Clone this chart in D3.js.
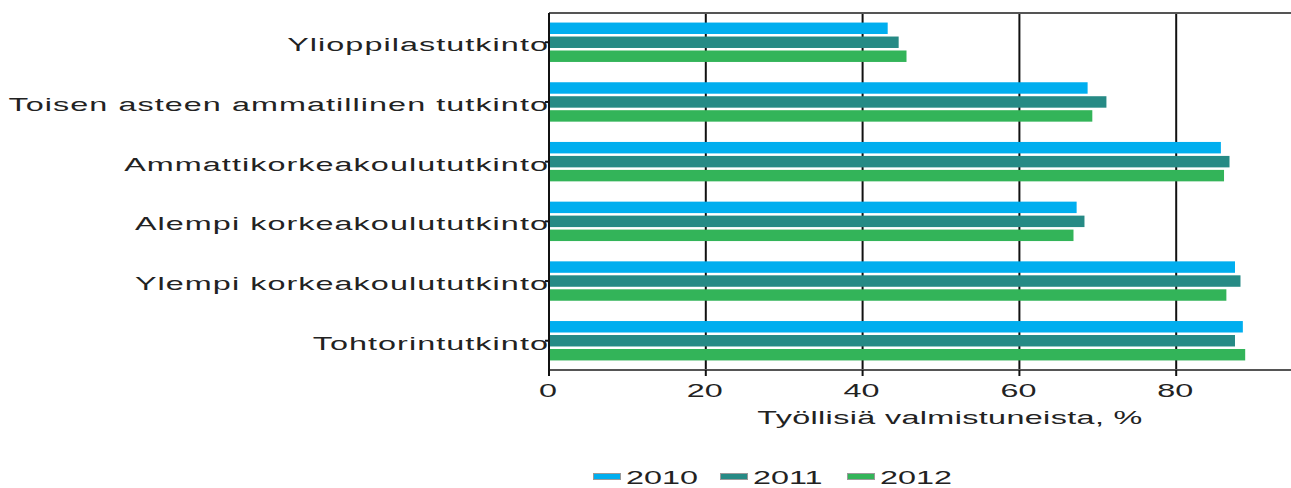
<!DOCTYPE html>
<html>
<head>
<meta charset="utf-8">
<script src="https://cdn.jsdelivr.net/npm/d3@7"></script>
<style>
  html, body { margin: 0; padding: 0; background: #fff; }
  svg { display: block; font-family: "Liberation Sans", Arial, sans-serif; }
</style>
</head>
<body>
<svg id="chart" width="1291" height="488"></svg>
<script>
// Employment rate of graduates by degree level, %
const categories = [
  "Ylioppilastutkinto",
  "Toisen asteen ammatillinen tutkinto",
  "Ammattikorkeakoulututkinto",
  "Alempi korkeakoulututkinto",
  "Ylempi korkeakoulututkinto",
  "Tohtorintutkinto"
];
const years = ["2010", "2011", "2012"];
const values2010 = [43.2, 68.7, 85.7, 67.3, 87.5, 88.5];
const values2011 = [44.6, 71.1, 86.8, 68.3, 88.2, 87.5];
const values2012 = [45.6, 69.3, 86.1, 66.9, 86.4, 88.8];
const xTicks = [0, 20, 40, 60, 80];
const axisTitle = "Työllisiä valmistuneista, %";

(function () {
  const seriesValues = [values2010, values2011, values2012];
  const colors = ["#00aeef", "#268a85", "#33b459"];

  const svg = d3.select("#chart");
  const W = 1291;
  const plotLeft = 549, plotTop = 13, plotBottom = 370;
  const stretch = 1.75;   // wide lettering

  const x = d3.scaleLinear().domain([0, 100]).range([plotLeft, 1333]);
  const y = d3.scaleBand().domain(categories).range([plotTop, plotBottom])
    .paddingInner(0.34).paddingOuter(0.16);
  const yInner = d3.scaleBand().domain(years).range([0, y.bandwidth()]).paddingInner(0.18);

  // vertical gridlines
  svg.append("g").selectAll("line")
    .data(xTicks.filter(d => d > 0))
    .join("line")
    .attr("x1", d => x(d)).attr("x2", d => x(d))
    .attr("y1", plotTop).attr("y2", plotBottom)
    .attr("stroke", "#111").attr("stroke-width", 2);

  // top frame line
  svg.append("line")
    .attr("x1", plotLeft).attr("x2", W).attr("y1", plotTop).attr("y2", plotTop)
    .attr("stroke", "#555").attr("stroke-width", 2);

  // bars
  const groups = svg.append("g").selectAll("g")
    .data(categories)
    .join("g")
    .attr("transform", c => `translate(0,${y(c)})`);

  groups.selectAll("rect")
    .data((c, i) => years.map((yr, k) => ({ yr, k, v: seriesValues[k][i] })))
    .join("rect")
    .attr("x", x(0) + 1)
    .attr("y", d => yInner(d.yr))
    .attr("width", d => x(d.v) - x(0) - 1)
    .attr("height", yInner.bandwidth())
    .attr("fill", d => colors[d.k]);

  // bottom axis
  const xAxis = svg.append("g");
  xAxis.append("line")
    .attr("x1", plotLeft).attr("x2", W).attr("y1", plotBottom).attr("y2", plotBottom)
    .attr("stroke", "#555").attr("stroke-width", 2);
  xAxis.selectAll("line.tick")
    .data(xTicks)
    .join("line")
    .attr("class", "tick")
    .attr("x1", d => x(d)).attr("x2", d => x(d))
    .attr("y1", plotBottom).attr("y2", plotBottom + 6)
    .attr("stroke", "#111").attr("stroke-width", 2);
  xAxis.selectAll("g.lbl")
    .data(xTicks)
    .join("g")
    .attr("class", "lbl")
    .attr("transform", d => `translate(${x(d) - 1},397) scale(${stretch},1)`)
    .append("text")
    .attr("text-anchor", "middle")
    .attr("font-size", 18.5)
    .attr("fill", "#222")
    .text(d => d);

  // axis title
  svg.append("g")
    .attr("transform", `translate(${(x(0) + x(100)) / 2 + 9},424) scale(${stretch},1)`)
    .append("text")
    .attr("text-anchor", "middle")
    .attr("font-size", 18.5)
    .attr("letter-spacing", 0.2)
    .attr("fill", "#222")
    .text(axisTitle);

  // left axis
  svg.append("line")
    .attr("x1", plotLeft).attr("x2", plotLeft).attr("y1", plotTop).attr("y2", plotBottom + 6)
    .attr("stroke", "#111").attr("stroke-width", 2);
  svg.append("g").selectAll("line")
    .data(categories)
    .join("line")
    .attr("x1", plotLeft - 4).attr("x2", plotLeft)
    .attr("y1", c => y(c) + y.bandwidth() / 2)
    .attr("y2", c => y(c) + y.bandwidth() / 2)
    .attr("stroke", "#111").attr("stroke-width", 2);

  // category labels
  svg.append("g").selectAll("g")
    .data(categories)
    .join("g")
    .attr("transform", c => `translate(${plotLeft},${y(c) + y.bandwidth() / 2 + 9}) scale(${stretch},1)`)
    .append("text")
    .attr("text-anchor", "end")
    .attr("font-size", 18.5)
    .attr("letter-spacing", 0.6)
    .attr("fill", "#222")
    .text(c => c);

  // legend
  const legend = svg.append("g").attr("transform", "translate(593,0)");
  const item = legend.selectAll("g")
    .data(years)
    .join("g")
    .attr("transform", (d, i) => `translate(${i * 127},0)`);
  item.append("rect")
    .attr("x", 0.5).attr("y", 473.5)
    .attr("width", 27).attr("height", 6)
    .attr("fill", (d, i) => colors[i])
    .attr("stroke", "#9a9a9a").attr("stroke-width", 1);
  item.append("g")
    .attr("transform", `translate(33,483.5) scale(${stretch},1)`)
    .append("text")
    .attr("font-size", 18.5)
    .attr("fill", "#222")
    .text(d => d);
})();
</script>
</body>
</html>
